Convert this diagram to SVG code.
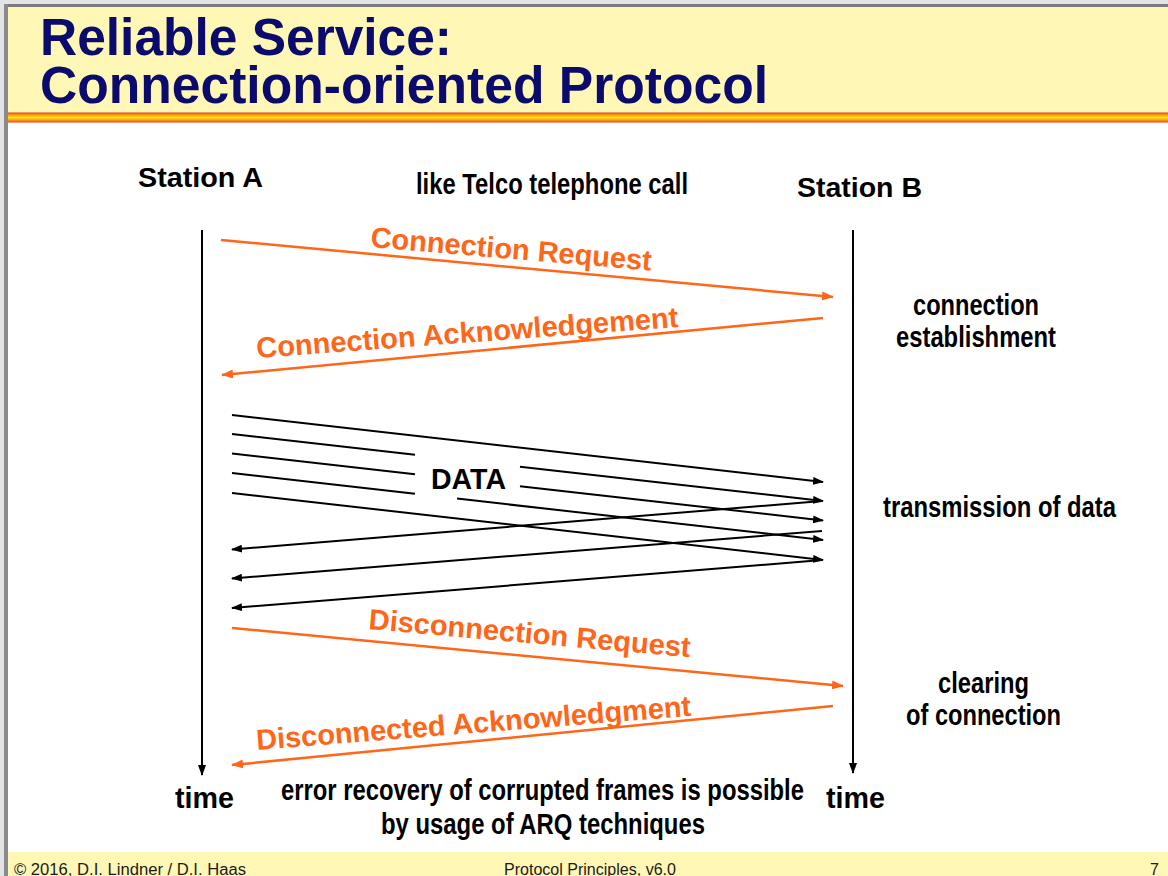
<svg xmlns="http://www.w3.org/2000/svg" width="1168" height="876" viewBox="0 0 1168 876">
  <style>
    .title { font-family: "Liberation Sans", Arial, sans-serif; font-weight: bold; font-size: 51px; fill: #0B0B6E; }
    .station { font-family: "Liberation Sans", Arial, sans-serif; font-weight: bold; font-size: 28px; fill: #000; }
    .narrow { font-family: "Liberation Sans Narrow", "Liberation Sans", Arial, sans-serif; font-weight: bold; font-size: 29px; fill: #000; }
    .msg { font-family: "Liberation Sans", Arial, sans-serif; font-weight: bold; font-size: 29px; fill: #FF6619; }
    .foot { font-family: "Liberation Sans", Arial, sans-serif; font-size: 16px; fill: #1a1a1a; }
    .orange { stroke: #FF6619; stroke-width: 2.5; fill: none; }
    .black { stroke: #000; stroke-width: 2; fill: none; }
  </style>
  <defs>
    <linearGradient id="stripe" x1="0" y1="0" x2="0" y2="1">
      <stop offset="0" stop-color="#D8401A"/>
      <stop offset="0.2" stop-color="#FF8C10"/>
      <stop offset="0.5" stop-color="#FFE81A"/>
      <stop offset="0.8" stop-color="#FF8C10"/>
      <stop offset="1" stop-color="#D8401A"/>
    </linearGradient>
    <marker id="ahOrange" viewBox="0 0 12 9" refX="11" refY="4.5" markerWidth="12" markerHeight="9" markerUnits="userSpaceOnUse" orient="auto">
      <path d="M0,0 L12,4.5 L0,9 z" fill="#FF6619"/>
    </marker>
    <marker id="ahBlack" viewBox="0 0 11 8" refX="10" refY="4" markerWidth="11" markerHeight="8" markerUnits="userSpaceOnUse" orient="auto">
      <path d="M0,0 L11,4 L0,8 z" fill="#000"/>
    </marker>
  </defs>

  <!-- slide frame -->
  <rect x="0" y="0" width="1168" height="876" fill="#FFFFFF"/>
  <rect x="0" y="0" width="1168" height="4" fill="#E4E4E4"/>
  <rect x="0" y="0" width="4" height="876" fill="#E4E4E4"/>
  <rect x="4" y="4" width="1164" height="3" fill="#7A7A7A"/>
  <rect x="4" y="4" width="4" height="872" fill="#8A8A8A"/>

  <!-- title band -->
  <rect x="8" y="7" width="1160" height="106" fill="#FFF7B5"/>
  <rect x="8" y="112.5" width="1160" height="10" fill="url(#stripe)"/>
  <text class="title" x="40" y="55" textLength="412" lengthAdjust="spacingAndGlyphs">Reliable Service:</text>
  <text class="title" x="40" y="103" textLength="728" lengthAdjust="spacingAndGlyphs">Connection-oriented Protocol</text>

  <!-- footer band -->
  <rect x="8" y="852" width="1160" height="24" fill="#FFF7B5"/>
  <text class="foot" x="14" y="875" textLength="232" lengthAdjust="spacingAndGlyphs">© 2016, D.I. Lindner / D.I. Haas</text>
  <text class="foot" x="504" y="875" textLength="172" lengthAdjust="spacingAndGlyphs">Protocol Principles, v6.0</text>
  <text class="foot" x="1150" y="875">7</text>

  <!-- stations -->
  <g id="stationA">
    <text class="station" x="138" y="187" textLength="125" lengthAdjust="spacingAndGlyphs">Station A</text>
    <line class="black" x1="202" y1="230" x2="202" y2="775" marker-end="url(#ahBlack)"/>
    <text class="narrow" x="175" y="808" textLength="59" lengthAdjust="spacingAndGlyphs">time</text>
  </g>
  <g id="stationB">
    <text class="station" x="797" y="197" textLength="125" lengthAdjust="spacingAndGlyphs">Station B</text>
    <line class="black" x1="853" y1="230" x2="853" y2="773" marker-end="url(#ahBlack)"/>
    <text class="narrow" x="826" y="808" textLength="59" lengthAdjust="spacingAndGlyphs">time</text>
  </g>

  <!-- notes -->
  <g id="notes">
    <text class="narrow" x="416" y="194" textLength="272" lengthAdjust="spacingAndGlyphs">like Telco telephone call</text>
    <text class="narrow" x="913" y="315" textLength="126" lengthAdjust="spacingAndGlyphs">connection</text>
    <text class="narrow" x="896" y="347" textLength="160" lengthAdjust="spacingAndGlyphs">establishment</text>
    <text class="narrow" x="883" y="517" textLength="233" lengthAdjust="spacingAndGlyphs">transmission of data</text>
    <text class="narrow" x="938" y="693" textLength="91" lengthAdjust="spacingAndGlyphs">clearing</text>
    <text class="narrow" x="906" y="725" textLength="155" lengthAdjust="spacingAndGlyphs">of connection</text>
    <text class="narrow" x="281" y="800" textLength="523" lengthAdjust="spacingAndGlyphs">error recovery of corrupted frames is possible</text>
    <text class="narrow" x="381" y="834" textLength="324" lengthAdjust="spacingAndGlyphs">by usage of ARQ techniques</text>
  </g>

  <!-- connectors -->
  <g id="connectors">
    <!-- connection setup -->
    <line class="orange" x1="221" y1="240" x2="833" y2="297" marker-end="url(#ahOrange)"/>
    <line class="orange" x1="823" y1="318" x2="222" y2="375" marker-end="url(#ahOrange)"/>
    <!-- data frames A to B -->
    <line class="black" x1="232" y1="415" x2="823" y2="482" marker-end="url(#ahBlack)"/>
    <line class="black" x1="232" y1="434" x2="415" y2="454.8"/>
    <line class="black" x1="520" y1="466.7" x2="823" y2="501" marker-end="url(#ahBlack)"/>
    <line class="black" x1="232" y1="453.5" x2="415" y2="474.3"/>
    <line class="black" x1="520" y1="486.2" x2="823" y2="520.5" marker-end="url(#ahBlack)"/>
    <line class="black" x1="232" y1="473" x2="415" y2="493.8"/>
    <line class="black" x1="457" y1="498.6" x2="823" y2="540" marker-end="url(#ahBlack)"/>
    <line class="black" x1="232" y1="493" x2="823" y2="560" marker-end="url(#ahBlack)"/>
    <!-- acknowledgements B to A -->
    <line class="black" x1="822" y1="501" x2="232" y2="549.5" marker-end="url(#ahBlack)"/>
    <line class="black" x1="822" y1="531" x2="232" y2="578.5" marker-end="url(#ahBlack)"/>
    <line class="black" x1="822" y1="560" x2="232" y2="608" marker-end="url(#ahBlack)"/>
    <!-- connection release -->
    <line class="orange" x1="232" y1="628" x2="843" y2="686" marker-end="url(#ahOrange)"/>
    <line class="orange" x1="833" y1="706" x2="232" y2="765" marker-end="url(#ahOrange)"/>
  </g>

  <!-- message labels -->
  <g id="labels">
    <text class="narrow" x="431" y="489" textLength="75" lengthAdjust="spacingAndGlyphs">DATA</text>
    <text class="msg" transform="translate(370,247) rotate(4.8)" textLength="282" lengthAdjust="spacingAndGlyphs">Connection Request</text>
    <text class="msg" transform="translate(257,358) rotate(-4.2)" textLength="423" lengthAdjust="spacingAndGlyphs">Connection Acknowledgement</text>
    <text class="msg" transform="translate(368,629) rotate(5)" textLength="323" lengthAdjust="spacingAndGlyphs">Disconnection Request</text>
    <text class="msg" transform="translate(257,750) rotate(-4.5)" textLength="436" lengthAdjust="spacingAndGlyphs">Disconnected Acknowledgment</text>
  </g>
</svg>
